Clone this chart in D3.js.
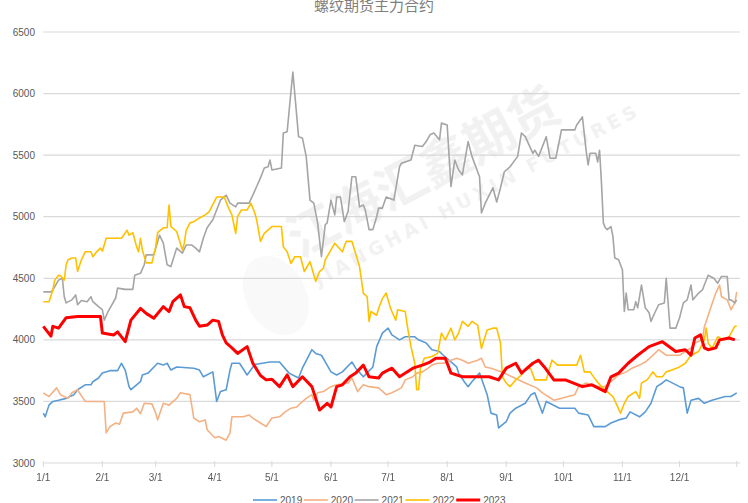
<!DOCTYPE html>
<html>
<head>
<meta charset="utf-8">
<script src="https://cdn.jsdelivr.net/npm/d3@7/dist/d3.min.js"></script>
<style>
  html, body { margin: 0; padding: 0; background: #fff; }
  svg { display: block; font-family: "Liberation Sans", "DejaVu Sans", sans-serif; }
</style>
</head>
<body>
<div id="chart"></div>
<script>
// Rebar futures, main contract, one line per year.
// Each point is [day of year (0 = Jan 1), price].
var years = ["2019", "2020", "2021", "2022", "2023"];
var yTicks = [3000, 3500, 4000, 4500, 5000, 5500, 6000, 6500];
var monthTicks = ["1/1", "2/1", "3/1", "4/1", "5/1", "6/1", "7/1", "8/1", "9/1", "10/1", "11/1", "12/1"];

var s2019 = [[0,3405],[1,3375],[3,3470],[5,3500],[8,3510],[12,3525],[16,3555],[18,3595],[22,3635],[25,3635],
  [26,3660],[29,3690],[31,3730],[35,3750],[39,3750],[41,3810],[43,3755],[45,3620],[46,3595],[51,3660],
  [52,3715],[55,3730],[60,3810],[63,3795],[65,3810],[67,3755],[70,3780],[79,3770],[82,3755],[84,3700],
  [89,3740],[91,3500],[93,3580],[96,3595],[98,3755],[99,3810],[103,3810],[107,3715],[111,3800],[119,3820],
  [124,3820],[129,3730],[134,3690],[136,3770],[141,3920],[143,3890],[146,3875],[149,3795],[151,3740],[154,3715],
  [157,3740],[162,3820],[164,3770],[168,3700],[173,3780],[175,3945],[178,4055],[181,4095],[183,4040],[187,4000],
  [190,4025],[195,4025],[197,4000],[201,3975],[204,3920],[208,3905],[210,3875],[217,3780],[218,3730],[221,3660],
  [223,3620],[225,3660],[229,3730],[233,3555],[235,3405],[238,3390],[239,3285],[243,3335],[245,3405],[248,3445],
  [253,3485],[256,3555],[258,3570],[262,3405],[264,3500],[271,3445],[279,3445],[281,3405],[286,3390],[289,3295],
  [295,3295],[298,3325],[302,3350],[306,3365],[308,3415],[313,3375],[316,3415],[319,3485],[322,3620],[325,3650],
  [327,3675],[334,3620],[336,3610],[338,3405],[340,3510],[344,3525],[347,3485],[351,3510],[358,3540],[361,3540],
  [364,3570]];

var s2020 = [[0,3570],[3,3540],[7,3610],[9,3555],[13,3525],[15,3570],[18,3595],[19,3570],[22,3500],[32,3500],
  [33,3245],[35,3295],[38,3325],[40,3315],[42,3405],[47,3415],[49,3445],[51,3400],[53,3485],[57,3480],
  [59,3405],[60,3350],[63,3485],[66,3470],[70,3525],[72,3570],[77,3555],[79,3365],[82,3335],[85,3350],
  [86,3270],[90,3205],[92,3215],[96,3185],[98,3245],[99,3375],[105,3375],[108,3390],[110,3365],[114,3325],
  [117,3295],[120,3365],[124,3375],[127,3415],[130,3445],[133,3455],[135,3485],[138,3525],[141,3555],[142,3510],
  [144,3570],[147,3580],[151,3620],[154,3635],[160,3650],[162,3690],[165,3580],[168,3635],[171,3620],[176,3610],
  [180,3555],[183,3570],[188,3610],[190,3675],[194,3700],[196,3730],[199,3740],[202,3770],[204,3795],[207,3810],
  [210,3810],[214,3835],[217,3850],[220,3835],[223,3810],[228,3835],[230,3850],[232,3780],[235,3770],[242,3730],
  [246,3700],[253,3650],[259,3610],[262,3570],[265,3540],[268,3510],[272,3525],[279,3555],[281,3620],[285,3650],
  [290,3620],[295,3620],[299,3675],[302,3715],[306,3740],[309,3770],[313,3795],[316,3820],[319,3860],[323,3920],
  [327,3875],[334,3875],[340,3935],[342,3975],[346,4000],[347,4105],[350,4245],[353,4380],[355,4445],[356,4350],
  [359,4325],[361,4245],[363,4300],[364,4390]];

var s2021 = [[0,4390],[4,4390],[5,4405],[8,4485],[10,4500],[11,4350],[12,4300],[15,4325],[17,4365],[18,4285],
  [20,4320],[23,4310],[25,4350],[26,4310],[29,4270],[31,4245],[32,4160],[34,4230],[38,4340],[39,4420],
  [43,4410],[47,4410],[48,4525],[51,4540],[53,4610],[54,4690],[58,4690],[61,4850],[63,4785],[65,4610],
  [67,4595],[70,4745],[73,4705],[75,4770],[78,4770],[80,4745],[82,4715],[84,4825],[86,4910],[89,4975],
  [93,5135],[96,5175],[98,5110],[101,5080],[102,5110],[108,5110],[110,5175],[112,5245],[114,5315],[116,5395],
  [118,5405],[119,5460],[120,5380],[125,5395],[126,5680],[128,5690],[130,6015],[131,6175],[134,5650],[136,5640],
  [138,5490],[140,5135],[142,5110],[144,4950],[146,4675],[148,4935],[149,4950],[151,5135],[153,5015],[154,5160],
  [156,5160],[158,4960],[160,5045],[162,5325],[164,5325],[166,5080],[168,5095],[169,5055],[171,4895],[173,4895],
  [175,5000],[176,5070],[178,5070],[180,5160],[184,5135],[187,5405],[188,5435],[193,5460],[195,5580],[199,5570],
  [201,5610],[203,5665],[205,5680],[208,5625],[209,5760],[212,5745],[214,5245],[216,5460],[218,5380],[220,5340],
  [223,5610],[225,5490],[229,5325],[230,5030],[232,5110],[236,5235],[238,5120],[240,5235],[242,5365],[245,5405],
  [249,5490],[251,5680],[253,5650],[257,5515],[258,5540],[260,5490],[264,5650],[266,5475],[269,5475],[271,5625],
  [272,5705],[279,5705],[280,5745],[283,5810],[285,5530],[286,5420],[287,5515],[290,5515],[291,5445],[292,5540],
  [293,5275],[294,4950],[295,4910],[296,4895],[298,4920],[299,4840],[300,4665],[302,4650],[304,4570],[305,4230],
  [306,4380],[307,4245],[310,4245],[311,4310],[312,4260],[314,4445],[316,4260],[318,4220],[319,4150],[321,4220],
  [323,4285],[326,4300],[327,4500],[329,4095],[332,4095],[334,4180],[336,4300],[338,4325],[340,4445],[341,4325],
  [344,4380],[346,4405],[347,4445],[349,4525],[352,4500],[354,4460],[356,4515],[359,4515],[360,4325],[361,4325],
  [363,4300],[364,4325]];

var s2022 = [[0,4310],[3,4310],[5,4405],[6,4485],[8,4525],[9,4520],[11,4485],[12,4610],[13,4650],[15,4665],
  [17,4665],[18,4555],[20,4650],[22,4715],[25,4715],[26,4675],[28,4715],[30,4745],[31,4720],[33,4825],
  [41,4825],[44,4890],[45,4850],[47,4870],[49,4755],[50,4715],[51,4825],[52,4730],[54,4625],[57,4625],
  [59,4755],[60,4870],[63,4910],[65,4910],[66,5095],[67,4920],[70,4880],[73,4730],[74,4785],[75,4890],
  [77,4950],[79,4960],[82,4990],[85,5015],[87,5040],[91,5160],[95,5160],[97,5080],[99,5015],[101,4865],
  [102,5000],[104,5055],[107,5055],[109,5110],[111,5030],[112,4975],[114,4800],[116,4865],[120,4920],[125,4920],
  [126,4755],[128,4715],[130,4620],[132,4675],[135,4675],[137,4555],[140,4635],[143,4475],[145,4555],[147,4580],
  [148,4650],[151,4730],[153,4785],[157,4715],[159,4800],[162,4800],[166,4595],[168,4380],[170,4350],[171,4150],
  [172,4230],[175,4200],[176,4255],[178,4335],[180,4380],[182,4270],[183,4230],[185,4160],[186,4245],[190,4230],
  [191,4120],[193,3945],[195,3810],[196,3595],[197,3595],[198,3770],[200,3850],[204,3865],[207,3890],[209,4055],
  [211,4000],[214,4095],[216,4000],[218,4055],[220,4150],[223,4110],[225,4150],[228,4120],[230,3930],[233,4080],
  [236,4095],[238,4095],[240,3975],[241,3700],[243,3650],[245,3620],[248,3675],[251,3715],[254,3780],[256,3760],
  [258,3675],[264,3675],[267,3835],[270,3795],[280,3795],[282,3875],[284,3740],[287,3740],[290,3675],[293,3620],
  [297,3565],[299,3540],[303,3405],[305,3485],[307,3540],[311,3580],[313,3525],[314,3650],[317,3675],[320,3740],
  [322,3700],[325,3700],[327,3740],[330,3755],[334,3780],[337,3810],[340,3875],[344,3905],[347,4000],[348,4095],
  [349,3975],[351,3930],[354,4025],[357,4000],[360,4025],[361,4055],[363,4110],[364,4110]];

var s2023 = [[0,4110],[4,4030],[5,4110],[8,4095],[12,4180],[18,4190],[30,4190],[31,4055],[37,4040],[39,4065],
  [43,3985],[46,4160],[51,4255],[54,4215],[58,4175],[63,4270],[66,4230],[68,4310],[72,4365],[74,4270],
  [77,4260],[80,4160],[82,4110],[86,4120],[89,4160],[92,4150],[94,4040],[96,3975],[99,3935],[102,3890],
  [107,3945],[110,3810],[114,3710],[117,3675],[120,3680],[124,3620],[128,3715],[131,3620],[136,3700],[141,3620],
  [145,3430],[149,3485],[151,3455],[154,3620],[157,3635],[161,3700],[164,3730],[168,3795],[171,3700],[176,3690],
  [178,3730],[183,3770],[187,3700],[194,3770],[199,3795],[203,3820],[206,3850],[211,3850],[214,3730],[220,3700],
  [234,3700],[239,3675],[243,3770],[248,3810],[251,3730],[257,3810],[260,3835],[263,3780],[268,3675],[274,3675],
  [283,3620],[288,3635],[295,3580],[298,3700],[302,3730],[307,3810],[312,3875],[318,3945],[325,3985],[332,3905],
  [337,3920],[340,3875],[342,4015],[345,4040],[347,3935],[349,3920],[353,3935],[355,4000],[360,4015],[363,4000]];

var seriesData = [s2019, s2020, s2021, s2022, s2023];
var colors = ["#5b9bd5", "#f4b183", "#a5a5a5", "#ffc000", "#ff0000"];
var widths = [1.6, 1.6, 1.6, 1.6, 3];

var width = 748,
    height = 503,
    plotLeft = 43.3,
    plotRight = 740,
    plotTop = 32,
    plotBottom = 463;

var svg = d3.select("#chart").append("svg")
  .attr("width", width)
  .attr("height", height);

function dayToDate(d) { return new Date(2023, 0, 1 + d); }

var x = d3.scaleTime()
  .domain([dayToDate(0), dayToDate(364)])
  .range([plotLeft, plotLeft + 364 * 1.905]);

var y = d3.scaleLinear()
  .domain([3000, 6500])
  .range([plotBottom, plotTop]);

// Title, clipped at the top edge like the original
svg.append("text")
  .attr("x", 374)
  .attr("y", 11)
  .attr("text-anchor", "middle")
  .style("font-family", "'Noto Sans CJK SC', sans-serif")
  .style("font-size", "15px")
  .style("fill", "#7f7f7f")
  .text("螺纹期货主力合约");

// Gridlines
svg.append("g").selectAll("line")
  .data(yTicks.slice(1))
  .enter().append("line")
    .attr("x1", plotLeft)
    .attr("x2", plotRight)
    .attr("y1", function(d) { return y(d); })
    .attr("y2", function(d) { return y(d); })
    .style("stroke", "#d9d9d9")
    .style("stroke-width", 1.2);

// Y labels
svg.append("g").selectAll("text")
  .data(yTicks)
  .enter().append("text")
    .attr("x", 35)
    .attr("y", function(d) { return y(d) + 3.5; })
    .attr("text-anchor", "end")
    .style("font-size", "10px")
    .style("fill", "#595959")
    .text(function(d) { return d; });

// Watermark
var wm = svg.append("g")
  .attr("transform", "translate(292,262) rotate(-28)")
  .style("fill", "#d0d0d0")
  .style("opacity", 0.3);
wm.append("ellipse")
  .attr("cx", -30).attr("cy", 22).attr("rx", 30).attr("ry", 42)
  .style("fill", "#dcdcdc")
  .style("opacity", 0.6);
wm.append("text")
  .attr("x", 8).attr("y", 0)
  .style("font-family", "'Noto Sans CJK SC', sans-serif")
  .style("font-weight", "bold")
  .style("font-size", "50px")
  .text("江海汇鑫期货");
wm.append("text")
  .attr("x", 12).attr("y", 34)
  .style("font-family", "'DejaVu Sans', sans-serif")
  .style("font-weight", "bold")
  .style("font-size", "19px")
  .style("letter-spacing", "4px")
  .text("JIANGHAI HUXIN FUTURES");

// X axis
var monthDates = monthTicks.map(function(t) {
  return new Date(2023, +t.split("/")[0] - 1, 1);
});
var xAxis = svg.append("g");
xAxis.append("line")
  .attr("x1", plotLeft).attr("x2", plotRight)
  .attr("y1", plotBottom).attr("y2", plotBottom)
  .style("stroke", "#d9d9d9")
  .style("stroke-width", 1.2);
xAxis.selectAll("line.tick")
  .data(monthDates.concat([dayToDate(364)]))
  .enter().append("line")
    .attr("class", "tick")
    .attr("x1", function(d) { return x(d); })
    .attr("x2", function(d) { return x(d); })
    .attr("y1", plotBottom - 2)
    .attr("y2", plotBottom + 4)
    .style("stroke", "#d9d9d9");
xAxis.selectAll("text")
  .data(monthDates)
  .enter().append("text")
    .attr("x", function(d) { return x(d); })
    .attr("y", 481)
    .attr("text-anchor", "middle")
    .style("font-size", "10px")
    .style("fill", "#595959")
    .text(function(d, i) { return monthTicks[i]; });

// Lines
var line = d3.line()
  .x(function(d) { return x(dayToDate(d[0])); })
  .y(function(d) { return y(d[1]); });

svg.append("g").selectAll("path")
  .data(seriesData)
  .enter().append("path")
    .attr("d", line)
    .style("fill", "none")
    .style("stroke", function(d, i) { return colors[i]; })
    .style("stroke-width", function(d, i) { return widths[i]; })
    .style("stroke-linejoin", "round");

// Legend, clipped at the bottom edge like the original
var legend = svg.append("g").selectAll("g")
  .data(years)
  .enter().append("g")
    .attr("transform", function(d, i) { return "translate(" + (253 + i * 50.8) + ",500)"; });
legend.append("line")
  .attr("x1", 0).attr("x2", 24)
  .style("stroke", function(d, i) { return colors[i]; })
  .style("stroke-width", function(d, i) { return widths[i]; });
legend.append("text")
  .attr("x", 27)
  .attr("y", 4)
  .style("font-size", "10px")
  .style("fill", "#595959")
  .text(function(d) { return d; });
</script>
</body>
</html>
